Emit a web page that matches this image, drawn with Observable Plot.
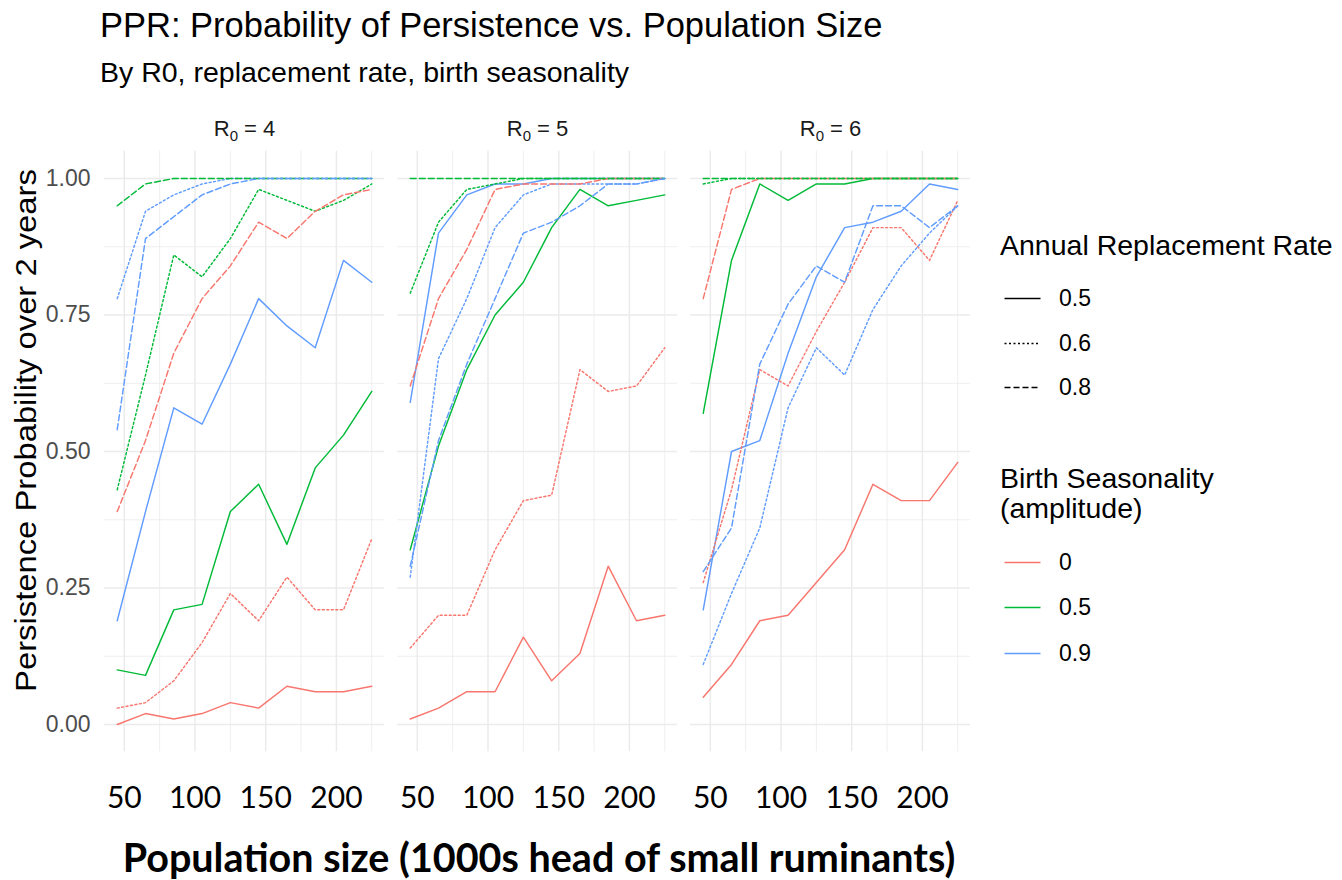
<!DOCTYPE html>
<html>
<head>
<meta charset="utf-8">
<script src="https://cdn.jsdelivr.net/npm/d3@7"></script>
<script src="https://cdn.jsdelivr.net/npm/@observablehq/plot@0.6"></script>
<style>
  body { margin: 0; background: #fff; }
  #wrap { position: relative; width: 1342px; height: 880px; overflow: hidden; background: #fff;
          font-family: "Liberation Sans", Arial, sans-serif; color: #000; }
  .abs { position: absolute; white-space: nowrap; line-height: 1; }
</style>
</head>
<body>
<div id="wrap"></div>
<script>
// ---------- data ----------
const popSize = [45, 65, 85, 105, 125, 145, 165, 185, 205, 225];
const r0Levels = [4, 5, 6];
const rateLevels = ["0.5", "0.6", "0.8"];
const seasonLevels = ["0", "0.5", "0.9"];
const seasonColors = ["#F8766D", "#00BA38", "#619CFF"];
const xTicks = [50, 100, 150, 200];
const xMinor = [75, 125, 175, 225];
const yTicks = [0, 0.25, 0.5, 0.75, 1];
const yMinor = [0.125, 0.375, 0.625, 0.875];

// R0 = 4
const r4_s0_r05  = [0.00, 0.02, 0.01, 0.02, 0.04, 0.03, 0.07, 0.06, 0.06, 0.07];
const r4_s0_r06  = [0.03, 0.04, 0.08, 0.15, 0.24, 0.19, 0.27, 0.21, 0.21, 0.34];
const r4_s0_r08  = [0.39, 0.52, 0.68, 0.78, 0.84, 0.92, 0.89, 0.94, 0.97, 0.98];
const r4_s05_r05 = [0.10, 0.09, 0.21, 0.22, 0.39, 0.44, 0.33, 0.47, 0.53, 0.61];
const r4_s05_r06 = [0.43, 0.64, 0.86, 0.82, 0.89, 0.98, 0.96, 0.94, 0.96, 0.99];
const r4_s05_r08 = [0.95, 0.99, 1.00, 1.00, 1.00, 1.00, 1.00, 1.00, 1.00, 1.00];
const r4_s09_r05 = [0.19, 0.39, 0.58, 0.55, 0.66, 0.78, 0.73, 0.69, 0.85, 0.81];
const r4_s09_r06 = [0.78, 0.94, 0.97, 0.99, 1.00, 1.00, 1.00, 1.00, 1.00, 1.00];
const r4_s09_r08 = [0.54, 0.89, 0.93, 0.97, 0.99, 1.00, 1.00, 1.00, 1.00, 1.00];
// R0 = 5
const r5_s0_r05  = [0.01, 0.03, 0.06, 0.06, 0.16, 0.08, 0.13, 0.29, 0.19, 0.20];
const r5_s0_r06  = [0.14, 0.20, 0.20, 0.32, 0.41, 0.42, 0.65, 0.61, 0.62, 0.69];
const r5_s0_r08  = [0.62, 0.78, 0.87, 0.98, 0.99, 0.99, 0.99, 1.00, 1.00, 1.00];
const r5_s05_r05 = [0.32, 0.51, 0.65, 0.75, 0.81, 0.91, 0.98, 0.95, 0.96, 0.97];
const r5_s05_r06 = [0.79, 0.92, 0.98, 0.99, 1.00, 1.00, 1.00, 1.00, 1.00, 1.00];
const r5_s05_r08 = [1.00, 1.00, 1.00, 1.00, 1.00, 1.00, 1.00, 1.00, 1.00, 1.00];
const r5_s09_r05 = [0.59, 0.90, 0.97, 0.99, 0.99, 1.00, 1.00, 1.00, 1.00, 1.00];
const r5_s09_r06 = [0.27, 0.67, 0.78, 0.91, 0.97, 0.99, 0.99, 0.99, 0.99, 1.00];
const r5_s09_r08 = [0.29, 0.52, 0.66, 0.78, 0.90, 0.92, 0.95, 0.99, 0.99, 1.00];
// R0 = 6
const r6_s0_r05  = [0.05, 0.11, 0.19, 0.20, 0.26, 0.32, 0.44, 0.41, 0.41, 0.48];
const r6_s0_r06  = [0.26, 0.43, 0.65, 0.62, 0.72, 0.81, 0.91, 0.91, 0.85, 0.96];
const r6_s0_r08  = [0.78, 0.98, 1.00, 1.00, 1.00, 1.00, 1.00, 1.00, 1.00, 1.00];
const r6_s05_r05 = [0.57, 0.85, 0.99, 0.96, 0.99, 0.99, 1.00, 1.00, 1.00, 1.00];
const r6_s05_r06 = [0.99, 1.00, 1.00, 1.00, 1.00, 1.00, 1.00, 1.00, 1.00, 1.00];
const r6_s05_r08 = [1.00, 1.00, 1.00, 1.00, 1.00, 1.00, 1.00, 1.00, 1.00, 1.00];
const r6_s09_r05 = [0.21, 0.50, 0.52, 0.68, 0.82, 0.91, 0.92, 0.94, 0.99, 0.98];
const r6_s09_r06 = [0.11, 0.24, 0.36, 0.58, 0.69, 0.64, 0.76, 0.84, 0.90, 0.95];
const r6_s09_r08 = [0.28, 0.36, 0.66, 0.77, 0.84, 0.81, 0.95, 0.95, 0.91, 0.95];

const titleText = "PPR: Probability of Persistence vs. Population Size";
const subtitleText = "By R0, replacement rate, birth seasonality";
const yTitle = "Persistence Probability over 2 years";
const xTitle = "Population size (1000s head of small ruminants)";
const legendRateTitle = "Annual Replacement Rate";
const legendSeasonTitle = ["Birth Seasonality", "(amplitude)"];

// ---------- table ----------
const seriesList = [
  [4, "0", "0.5", r4_s0_r05], [4, "0", "0.6", r4_s0_r06], [4, "0", "0.8", r4_s0_r08],
  [4, "0.5", "0.5", r4_s05_r05], [4, "0.5", "0.6", r4_s05_r06], [4, "0.5", "0.8", r4_s05_r08],
  [4, "0.9", "0.5", r4_s09_r05], [4, "0.9", "0.6", r4_s09_r06], [4, "0.9", "0.8", r4_s09_r08],
  [5, "0", "0.5", r5_s0_r05], [5, "0", "0.6", r5_s0_r06], [5, "0", "0.8", r5_s0_r08],
  [5, "0.5", "0.5", r5_s05_r05], [5, "0.5", "0.6", r5_s05_r06], [5, "0.5", "0.8", r5_s05_r08],
  [5, "0.9", "0.5", r5_s09_r05], [5, "0.9", "0.6", r5_s09_r06], [5, "0.9", "0.8", r5_s09_r08],
  [6, "0", "0.5", r6_s0_r05], [6, "0", "0.6", r6_s0_r06], [6, "0", "0.8", r6_s0_r08],
  [6, "0.5", "0.5", r6_s05_r05], [6, "0.5", "0.6", r6_s05_r06], [6, "0.5", "0.8", r6_s05_r08],
  [6, "0.9", "0.5", r6_s09_r05], [6, "0.9", "0.6", r6_s09_r06], [6, "0.9", "0.8", r6_s09_r08]
];
const rows = [];
for (const [r0, season, rate, vals] of seriesList) {
  vals.forEach((p, i) => rows.push({r0, season, rate, pop: popSize[i], p, key: season + "|" + rate}));
}
const rateDash = {"0.5": null, "0.6": "2,2.5", "0.8": "6,3"};

// ---------- plot ----------
const grid = "#EBEBEB";
const plot = Plot.plot({
  width: 990,
  height: 730,
  marginLeft: 103.3,
  marginRight: 19,
  marginTop: 50.7,
  marginBottom: 78.7,
  style: {fontFamily: "'Liberation Sans', Arial, sans-serif", background: "transparent", overflow: "visible"},
  fx: {domain: r0Levels, paddingInner: 0.045, paddingOuter: 0, label: null},
  x: {domain: [36, 234]},
  y: {domain: [-0.05, 1.05]},
  color: {domain: seasonLevels, range: seasonColors},
  marks: [
    Plot.ruleY(yMinor, {stroke: grid, strokeWidth: 0.8}),
    Plot.ruleX(xMinor, {stroke: grid, strokeWidth: 0.8}),
    Plot.ruleY(yTicks, {stroke: grid, strokeWidth: 1.5}),
    Plot.ruleX(xTicks, {stroke: grid, strokeWidth: 1.5}),
    ...rateLevels.map(r => Plot.line(rows.filter(d => d.rate === r), {
      x: "pop", y: "p", fx: "r0", z: "key", stroke: "season",
      strokeWidth: 1.45, strokeDasharray: rateDash[r]
    })),
    Plot.axisFx({anchor: "top", tickSize: 0, tickPadding: 15, fontSize: 22, color: "#1A1A1A", label: null}),
    Plot.axisY({ticks: yTicks, tickFormat: d3.format(".2f"), tickSize: 0, tickPadding: 14,
                fontSize: 23, color: "#4D4D4D", label: null}),
    Plot.axisX({ticks: xTicks, tickSize: 0, tickPadding: 35, fontSize: 30, color: "#000",
                fontFamily: "Lato, 'Open Sans', sans-serif", label: null})
  ]
});

// subscript in facet labels: R0 = n
d3.select(plot).selectAll('g[aria-label="fx-axis tick label"] text').each(function() {
  const t = d3.select(this);
  const v = t.text();
  t.text(null);
  t.append("tspan").text("R");
  t.append("tspan").attr("dy", "4.4px").attr("font-size", "15px").text("0");
  t.append("tspan").attr("dy", "-4.4px").text(" = " + v);
});

const wrap = document.getElementById("wrap");
plot.style.position = "absolute";
plot.style.left = "0px";
plot.style.top = "100px";
wrap.appendChild(plot);

// ---------- text ----------
function addText(txt, left, top, size, extra = {}) {
  const d = document.createElement("div");
  d.className = "abs";
  d.textContent = txt;
  d.style.left = left + "px";
  d.style.top = top + "px";
  d.style.fontSize = size + "px";
  Object.assign(d.style, extra);
  wrap.appendChild(d);
  return d;
}
addText(titleText, 100, 8, 34.5);
addText(subtitleText, 100, 58, 28.5);

// y-axis title (rotated)
addText(yTitle, 26 - 300, 430 - 14.5, 29, {
  width: "600px", textAlign: "center", lineHeight: "29px",
  transform: "rotate(-90deg) scaleX(1.13)", transformOrigin: "50% 50%"
});

// x-axis title (bold, overlay style)
addText(xTitle, 539, 837, 39.5, {
  fontFamily: "Lato, 'Open Sans', sans-serif", fontWeight: "700",
  transform: "translateX(-50%)"
});

// ---------- legends ----------
const legLeft = 1000;
function keySvg(cy, stroke, dash) {
  const svg = d3.select(wrap).append("svg")
    .style("position", "absolute").style("left", legLeft + "px").style("top", (cy - 22.5) + "px")
    .attr("width", 45).attr("height", 45);
  svg.append("line").attr("x1", 4.5).attr("x2", 40.5).attr("y1", 22.5).attr("y2", 22.5)
    .attr("stroke", stroke).attr("stroke-width", 1.5)
    .attr("stroke-dasharray", dash);
}
addText(legendRateTitle, legLeft, 245 - 0.4885 * 28.5, 28.5);
const rateKeyY = [298, 343, 387];
rateLevels.forEach((r, i) => {
  keySvg(rateKeyY[i], "#000", rateDash[r]);
  addText(r, 1059, rateKeyY[i] - 0.4885 * 23, 23);
});
addText(legendSeasonTitle[0], legLeft, 478 - 0.4885 * 28.5, 28.5);
addText(legendSeasonTitle[1], legLeft, 508 - 0.4885 * 28.5, 28.5);
const seasonKeyY = [562, 607, 653];
seasonLevels.forEach((s, i) => {
  keySvg(seasonKeyY[i], plot.scale("color").apply(s), null);
  addText(s, 1059, seasonKeyY[i] - 0.4885 * 23, 23);
});
</script>
</body>
</html>
